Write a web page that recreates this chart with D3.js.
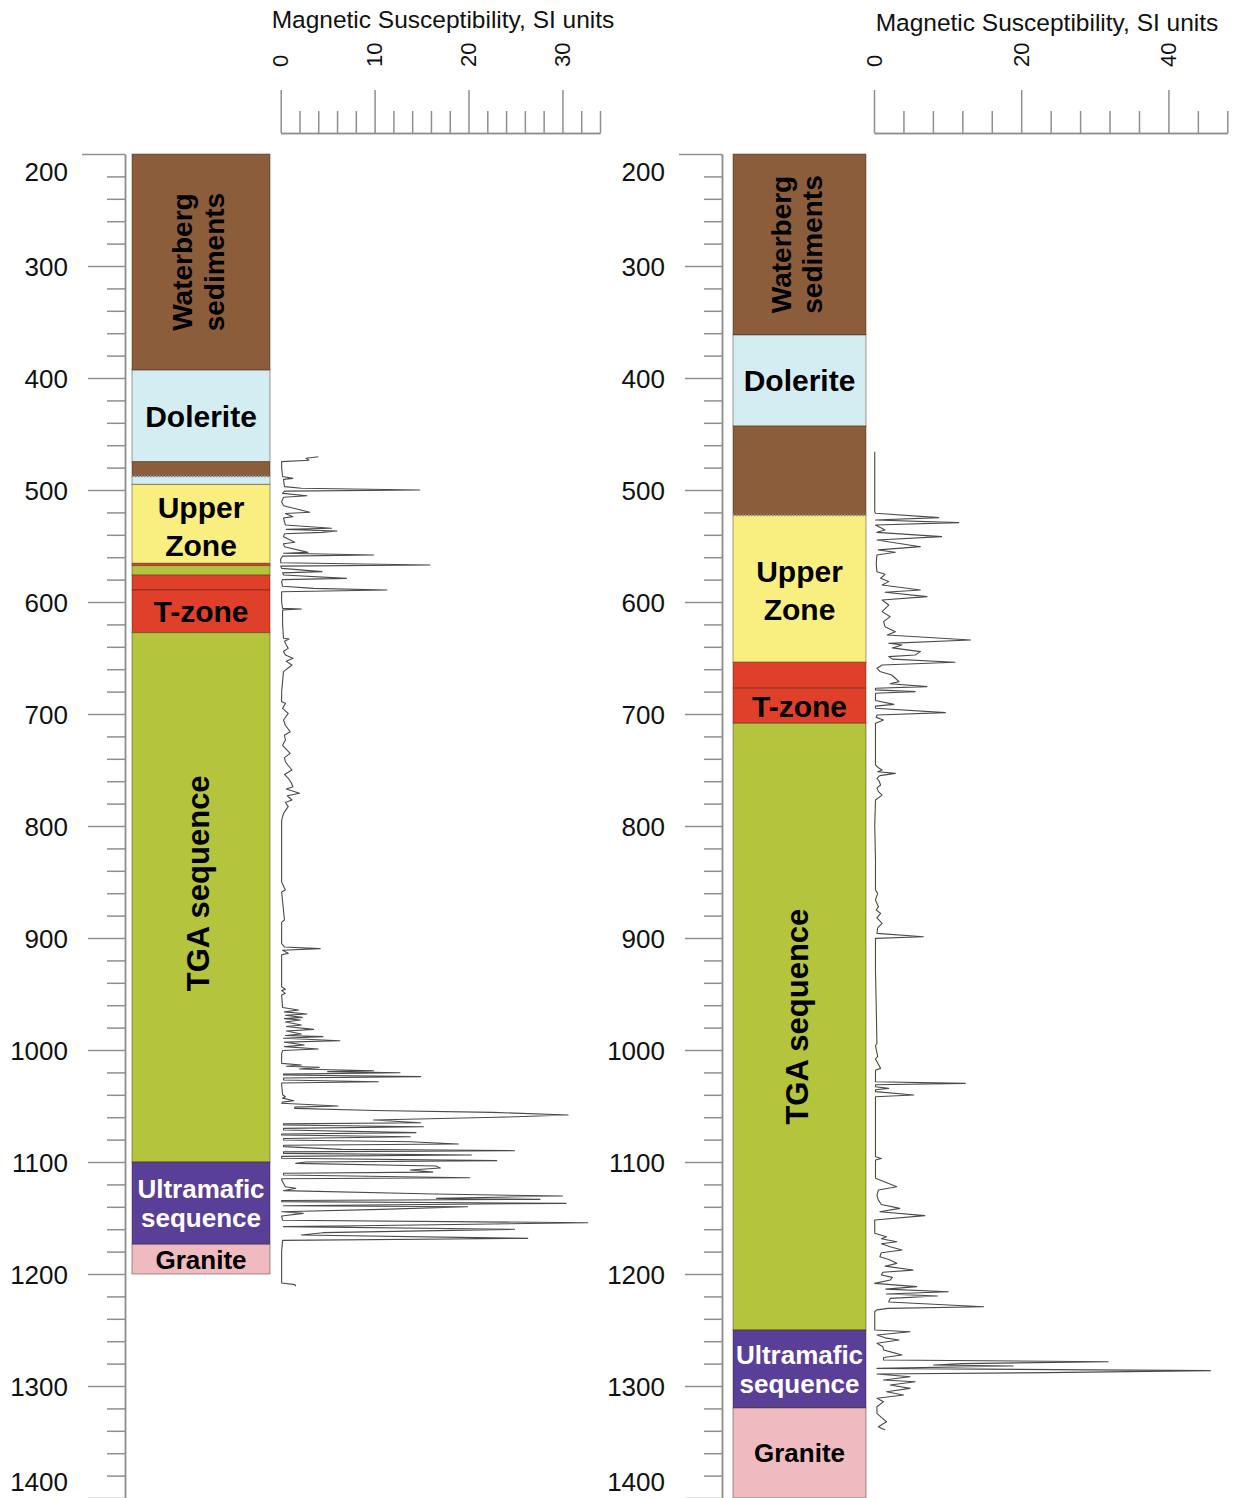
<!DOCTYPE html>
<html>
<head>
<meta charset="utf-8">
<script src="https://cdn.jsdelivr.net/npm/d3@7"></script>
<style>
  body { margin: 0; background: #fff; }
  svg text { font-family: "Liberation Sans", Arial, sans-serif; }
</style>
</head>
<body>
<div id="chart"></div>
<script>
// ---- data ----
const depthMajor = [200, 300, 400, 500, 600, 700, 800, 900, 1000, 1100, 1200, 1300, 1400];
const axisTitle = "Magnetic Susceptibility, SI units";

// lithology: [unit, top (m), base (m)]
const wellAUnits = [
  ["waterberg", 200, 393],
  ["dolerite", 393, 474.7],
  ["waterberg", 474.7, 487.5],
  ["dolerite", 487.5, 495],
  ["upper", 495, 565.5],
  ["tzone", 565.5, 567.5],
  ["tga", 567.5, 576],
  ["tzone", 576, 589.3],
  ["tzone", 589.3, 627.4],
  ["tga", 627.4, 1100],
  ["ultramafic", 1100, 1173.5],
  ["granite", 1173.5, 1200]
];
const wellBUnits = [
  ["waterberg", 200, 361.6],
  ["dolerite", 361.6, 442.9],
  ["waterberg", 442.9, 522.3],
  ["upper", 522.3, 653.8],
  ["tzone", 653.8, 677],
  ["tzone", 677, 708.3],
  ["tga", 708.3, 1250],
  ["ultramafic", 1250, 1319.6],
  ["granite", 1319.6, 1400]
];
// unconformity (dotted contact)
const wellAContacts = [487.5];
const wellBContacts = [522.3];

// labels: [index of unit in list, text lines]
const wellALabels = [
  [0, ["Waterberg", "sediments"]],
  [1, ["Dolerite"]],
  [4, ["Upper", "Zone"]],
  [8, ["T-zone"]],
  [9, ["TGA sequence"]],
  [10, ["Ultramafic", "sequence"]],
  [11, ["Granite"]]
];
const wellBLabels = [
  [0, ["Waterberg", "sediments"]],
  [1, ["Dolerite"]],
  [3, ["Upper", "Zone"]],
  [5, ["T-zone"]],
  [6, ["TGA sequence"]],
  [7, ["Ultramafic", "sequence"]],
  [8, ["Granite"]]
];

// magnetic susceptibility logs: [depth m, SI]
const wellALog = [
  [470.3, 4.0], [471.7, 2.7], [473.5, 3.0], [474.7, 0.1], [480, 0.1], [488, 0.2], [489.6, 1.3], [490.5, 0.3],
  [497, 0.4], [498.5, 2.2], [500, 14.8], [501, 0.4], [503, 0.2], [505.1, 2.8], [506.5, 0.3], [510.4, 0.1],
  [514, 0.3], [519.9, 3.1], [521, 0.5], [523.8, 1.3], [525, 0.3], [531.3, 0.5], [534.2, 5.4], [535.2, 0.6],
  [536.6, 6.0], [537.8, 4.4], [539, 0.4], [541.7, 0.3], [546.7, 1.5], [548, 0.3], [550.6, 0.4], [555.7, 2.9],
  [556.5, 0.3], [558, 9.9], [559, 0.2], [561.6, 0.0], [565, 0.0], [567, 15.9], [568, 0.0], [570, 0.1],
  [572.9, 4.4], [574, 0.2], [575.9, 0.3], [578.9, 7.0], [580, 0.2], [581.8, 0.1], [586, 0.2], [587.8, 3.5],
  [589.3, 11.3], [590.8, 0.1], [600, 0.1], [605.7, 0.2], [606.3, 2.2], [607.1, 0.2], [620, 0.2], [632.4, 0.3],
  [633, 0.9], [635, 0.4], [638.4, 0.6], [641.4, 0.8], [644, 0.3], [647.3, 0.5], [650.3, 1.3], [653, 0.6],
  [656.3, 1.2], [662.2, 0.3], [671.1, 0.2], [680, 0.1], [689, 0.1], [690.5, 0.5], [695, 0.2], [699.4, 0.8],
  [705.4, 0.3], [710, 0.5], [715.8, 1.0], [719, 0.4], [723.2, 0.5], [728, 0.2], [735.1, 1.0], [739, 0.4],
  [742.6, 0.5], [746, 0.8], [750, 1.2], [754, 0.4], [757.4, 0.8], [761, 1.1], [764.9, 1.3], [767, 0.6],
  [770.8, 2.0], [773, 0.7], [776.8, 1.2], [779, 0.5], [782.7, 0.8], [788.7, 0.3], [795, 0.1], [820, 0.1],
  [850, 0.1], [857.1, 0.5], [859, 0.1], [883.9, 0.4], [886, 0.1], [905, 0.1], [908, 0.4], [909.5, 4.2],
  [911, 0.2], [913.7, 0.8], [915, 0.1], [943.5, 0.1], [945.8, 0.5], [947, 0.1], [949.4, 0.5], [951, 0.1],
  [962, 0.2], [964.3, 1.9], [966, 0.4], [967.9, 2.8], [969, 0.5], [970.9, 2.3], [972, 0.4], [973.2, 2.1],
  [975, 0.5], [977.7, 2.2], [979, 0.6], [981.6, 3.5], [983, 0.6], [985.7, 2.2], [987, 0.5], [988.1, 4.5],
  [989.5, 0.3], [991.7, 6.3], [993, 0.4], [995.5, 2.5], [997, 0.4], [999.1, 4.0], [1000.5, 0.2], [1003, 0.1],
  [1011.9, 0.1], [1013.4, 2.2], [1014.5, 0.6], [1015.5, 4.1], [1017, 2.0], [1018.5, 9.9], [1019.3, 5.0],
  [1020.3, 12.7], [1021.5, 0.3], [1022.3, 0.3], [1023.8, 14.9], [1025, 0.3], [1026.8, 0.3], [1028.3, 10.4],
  [1029.5, 0.1], [1030.4, 0.1], [1040, 0.2], [1041.7, 0.5], [1043, 0.2], [1045.3, 1.4], [1046.5, 0.2],
  [1047.6, 0.1], [1050, 6.1], [1051, 1.5], [1052.1, 1.5], [1054, 10], [1055.7, 22.6], [1058.1, 30.6],
  [1060.1, 23.0], [1062.5, 9.9], [1064.9, 14.9], [1066, 0.3], [1067, 0.3], [1068.5, 15.2], [1070, 0.3],
  [1071.4, 0.3], [1073.8, 14.4], [1075, 0.1], [1075.9, 0.1], [1077.4, 13.8], [1079, 0.3], [1080.4, 0.3],
  [1081.9, 13.8], [1083.9, 18.9], [1085, 0.3], [1086.3, 0.3], [1088.7, 6.5], [1089.9, 24.9], [1091, 0.3],
  [1092.3, 0.3], [1093.8, 20.3], [1095, 0.1], [1096.7, 0.1], [1098.8, 23.0], [1100, 2.7], [1101.2, 1.6],
  [1103.6, 16.5], [1105.4, 17.0], [1107.2, 13.8], [1109, 16.2], [1110, 0.3], [1111.6, 0.3], [1114, 20.1],
  [1115, 0.1], [1116.1, 0.1], [1122.1, 0.5], [1123.5, 1.6], [1125.6, 0.3], [1128.6, 16.4], [1130.4, 30.0],
  [1132.5, 16.6], [1133.4, 27.6], [1134.4, 0.1], [1135.4, 0.1], [1136.9, 30.4], [1139, 0.3], [1139.9, 19.9],
  [1142.3, 10.7], [1144.4, 0.1], [1145.9, 2.4], [1148.2, 0.1], [1152, 0.2], [1154.2, 32.7], [1156.9, 8.4],
  [1157.7, 0.3], [1160.1, 24.9], [1163.1, 4.5], [1165.2, 2.2], [1168.2, 26.3], [1170, 0.2], [1180, 0.1],
  [1195, 0.1], [1208, 0.1], [1209.5, 1.5], [1211, 1.6]
];
const wellBLog = [
  [465.8, 0.1], [519.3, 0.1], [520.8, 0.2], [524.7, 8.8], [526.8, 0.2], [529.1, 11.5], [531.2, 0.2],
  [535.7, 1.5], [537.8, 0.4], [541.6, 9.2], [544.6, 0.4], [550.6, 6.3], [553.5, 0.6], [555.6, 2.9], [558, 0.4],
  [566, 0.3], [572.9, 0.4], [575.3, 1.5], [578.8, 0.9], [581.8, 2.0], [584.8, 1.1], [589.3, 6.3], [591.3, 1.5],
  [595.2, 7.2], [598.2, 1.1], [602.7, 2.0], [608.6, 1.1], [613.1, 2.2], [617.5, 1.3], [622, 1.5], [626.5, 2.9],
  [629.4, 1.8], [633.9, 13.1], [636.9, 2.0], [638.4, 3.8], [641, 2.5], [644.3, 6.3], [647.3, 5.6], [648.8, 2.0],
  [651, 2.5], [653.8, 11.0], [656.2, 1.1], [659.2, 0.4], [662, 0.8], [665.2, 2.4], [668.1, 2.9], [671.1, 3.4],
  [673, 2.2], [675.6, 7.2], [677, 0.2], [678.5, 0.2], [680, 5.6], [681.5, 0.2], [683, 0.2], [688, 0.2],
  [691.4, 2.7], [693, 0.2], [694.9, 0.2], [698.8, 9.7], [700.9, 0.4], [703, 0.3], [705.3, 1.3], [708.3, 0.2],
  [745.5, 0.2], [748, 0.6], [750, 1.1], [751.5, 0.5], [753, 2.9], [755, 0.8], [757.4, 0.4], [760, 0.7],
  [763.4, 0.9], [766, 0.4], [769.3, 0.6], [772.4, 1.1], [776.8, 0.2], [800, 0.1], [830, 0.2], [857.2, 0.2],
  [860.2, 0.5], [866, 0.2], [872.1, 0.6], [875, 0.3], [878, 0.9], [882, 0.4], [887, 1.1], [891, 0.5],
  [895.9, 0.4], [898.9, 6.7], [900.3, 0.2], [930, 0.2], [960, 0.3], [994.1, 0.4], [996, 0.2], [1006, 0.5],
  [1008, 0.2], [1016.4, 0.9], [1018, 0.2], [1028.3, 0.2], [1029.8, 12.4], [1031, 0.2], [1032.8, 0.2],
  [1034.3, 2.0], [1035.5, 0.2], [1037.2, 0.2], [1040.2, 5.4], [1041.7, 0.2], [1070, 0.2], [1095.3, 0.2],
  [1096.8, 1.0], [1098.3, 0.2], [1114.6, 0.2], [1122.1, 3.1], [1125, 0.6], [1129.5, 0.4], [1134, 0.6],
  [1138, 1.0], [1141.4, 3.5], [1144.4, 0.8], [1147.9, 6.9], [1151.8, 0.1], [1163.7, 0.1], [1166.7, 1.7],
  [1168.5, 1.0], [1171.2, 3.1], [1173, 1.0], [1175.6, 2.2], [1178.6, 3.8], [1181, 1.0], [1184.6, 0.8],
  [1187, 2.0], [1190.5, 3.1], [1193, 1.5], [1196.5, 5.3], [1198.5, 1.2], [1200.9, 1.0], [1203, 2.5],
  [1205.4, 2.2], [1208.4, 0.1], [1211.3, 5.8], [1213.5, 1.6], [1215.8, 10.1], [1217.9, 1.7], [1219.7, 8.6],
  [1221.8, 2.2], [1225, 2.0], [1229.2, 14.9], [1230.7, 1.9], [1232, 0.4], [1233.7, 0.1], [1250, 0.1],
  [1251.5, 4.9], [1254.5, 0.4], [1257, 1.5], [1259, 3.4], [1261.9, 0.4], [1265, 1.2], [1267.9, 1.3],
  [1270, 2.5], [1272.3, 3.8], [1274.5, 1.3], [1276.8, 1.3], [1278.3, 31.8], [1280, 12], [1281.3, 8.1],
  [1282.2, 18.9], [1284.3, 0.4], [1286.3, 45.7], [1288.1, 23.5], [1289.3, 0.4], [1291.7, 4.9], [1294.7, 1.3],
  [1296.2, 5.6], [1299.1, 2.2], [1302.1, 4.9], [1305.1, 1.7], [1308.1, 4.0], [1311, 0.4], [1314, 1.3],
  [1318.5, 0.4], [1324.4, 0.4], [1328, 1.0], [1331.9, 1.7], [1336.3, 0.6], [1339.3, 1.5]
];

// ---- styles ----
const unitColors = {
  waterberg: "#8b5d3b",
  dolerite: "#d4edf2",
  upper: "#f9ef80",
  tzone: "#e0402a",
  tga: "#b5c43d",
  ultramafic: "#5a3f98",
  granite: "#efbac0"
};
const labelColors = { ultramafic: "#fff" };
const axisGrey = "#8f8f8f";

const W = 1238, H = 1498;
const svg = d3.select("#chart").append("svg")
  .attr("width", W).attr("height", H);

const y = d3.scaleLinear().domain([200, 1400]).range([154, 1498]);

const panels = [
  { units: wellAUnits, labels: wellALabels, contacts: wellAContacts, log: wellALog,
    axisX: 125, col: [132, 270], xr: [280.7, 600], xmax: 34, minorStep: 2, majorStep: 10,
    titleX: 443, titleY: 28, tgaShift: -14 },
  { units: wellBUnits, labels: wellBLabels, contacts: wellBContacts, log: wellBLog,
    axisX: 722, col: [733, 866], xr: [874, 1227.3], xmax: 48, minorStep: 4, majorStep: 20,
    titleX: 1047, titleY: 31, tgaShift: -10 }
];
const labelSize = { big: 30, wb: 28, tga: 31, small: 26 };

panels.forEach(p => {
  const g = svg.append("g");

  // depth axis
  const minor = d3.range(200, 1401, 20).filter(d => d % 100 !== 0);
  const axMinor = g.append("g").attr("transform", `translate(${p.axisX},0)`)
    .call(d3.axisLeft(y).tickValues(minor).tickSize(18).tickSizeOuter(0).tickFormat(""));
  const axMajor = g.append("g").attr("transform", `translate(${p.axisX},0)`)
    .call(d3.axisLeft(y).tickValues(depthMajor).tickSize(37).tickSizeOuter(0)
      .tickPadding(20).tickFormat(d3.format("d")));
  [axMinor, axMajor].forEach(a => {
    a.selectAll("line, path").attr("stroke", axisGrey).attr("stroke-width", 1.5);
  });
  axMajor.selectAll(".tick text")
    .attr("font-size", 26).attr("fill", "#111")
    .attr("dy", d => d === 200 ? "1.0em" : d === 1400 ? "-0.3em" : "0.35em");
  axMajor.selectAll(".tick").filter(d => d === 200).select("line").attr("x2", -43);

  // lithology column
  const col = g.append("g");
  col.selectAll("rect").data(p.units).join("rect")
    .attr("x", p.col[0])
    .attr("width", p.col[1] - p.col[0])
    .attr("y", d => y(d[1]))
    .attr("height", d => y(d[2]) - y(d[1]))
    .attr("fill", d => unitColors[d[0]])
    .attr("stroke", "rgba(60,30,20,0.45)")
    .attr("stroke-width", 1);
  col.selectAll("line.contact").data(p.contacts).join("line")
    .attr("class", "contact")
    .attr("x1", p.col[0]).attr("x2", p.col[1])
    .attr("y1", d => y(d)).attr("y2", d => y(d))
    .attr("stroke", "#8a8a8a").attr("stroke-width", 2.5)
    .attr("stroke-dasharray", "1.5,1.5");

  // unit labels
  const cx = (p.col[0] + p.col[1]) / 2;
  p.labels.forEach(([i, lines]) => {
    const u = p.units[i];
    const kind = u[0];
    let cy = (y(u[1]) + y(u[2])) / 2;
    const vertical = kind === "waterberg" || kind === "tga";
    let size = labelSize.big;
    if (kind === "waterberg") size = labelSize.wb;
    if (kind === "tga") { size = labelSize.tga; cy += p.tgaShift; }
    if (kind === "ultramafic" || kind === "granite") size = labelSize.small;
    const lh = kind === "upper" ? size * 1.27 : size * 1.12;
    const t = col.append("text")
      .attr("transform", vertical ? `translate(${cx - 3},${cy}) rotate(-90)` : `translate(${cx},${cy + (kind === "upper" ? 2 : 0)})`)
      .attr("text-anchor", "middle")
      .attr("font-weight", "bold")
      .attr("font-size", size)
      .attr("fill", labelColors[kind] || "#000");
    lines.forEach((ln, k) => {
      t.append("tspan")
        .attr("x", 0)
        .attr("y", (k - (lines.length - 1) / 2) * lh)
        .attr("dy", "0.36em")
        .text(ln);
    });
  });

  // susceptibility axis (top)
  const x = d3.scaleLinear().domain([0, p.xmax]).range(p.xr);
  const xMinor = d3.range(0, p.xmax + 0.001, p.minorStep).filter(d => d % p.majorStep !== 0);
  const xMajor = d3.range(0, p.xmax + 0.001, p.majorStep);
  const tx1 = g.append("g").attr("transform", "translate(0,133)")
    .call(d3.axisTop(x).tickValues(xMinor).tickSize(22).tickSizeOuter(0).tickFormat(""));
  const tx2 = g.append("g").attr("transform", "translate(0,133)")
    .call(d3.axisTop(x).tickValues(xMajor).tickSize(43).tickSizeOuter(0).tickFormat(""));
  [tx1, tx2].forEach(a => a.selectAll("line, path").attr("stroke", axisGrey).attr("stroke-width", 1.5));
  g.selectAll("text.xt").data(xMajor).join("text")
    .attr("class", "xt")
    .attr("transform", d => `translate(${x(d)},67) rotate(-90)`)
    .attr("dy", "0.35em")
    .attr("font-size", 22)
    .attr("fill", "#111")
    .text(d => d);
  g.append("text")
    .attr("x", p.titleX).attr("y", p.titleY)
    .attr("text-anchor", "middle")
    .attr("font-size", 24.5)
    .attr("fill", "#111")
    .text(axisTitle);

  // susceptibility curve
  const line = d3.line().x(d => x(d[1])).y(d => y(d[0]));
  g.append("path")
    .datum(p.log)
    .attr("d", line)
    .attr("fill", "none")
    .attr("stroke", "#4a4a4a")
    .attr("stroke-width", 1.1)
    .attr("stroke-linejoin", "round");
});
</script>
</body>
</html>
